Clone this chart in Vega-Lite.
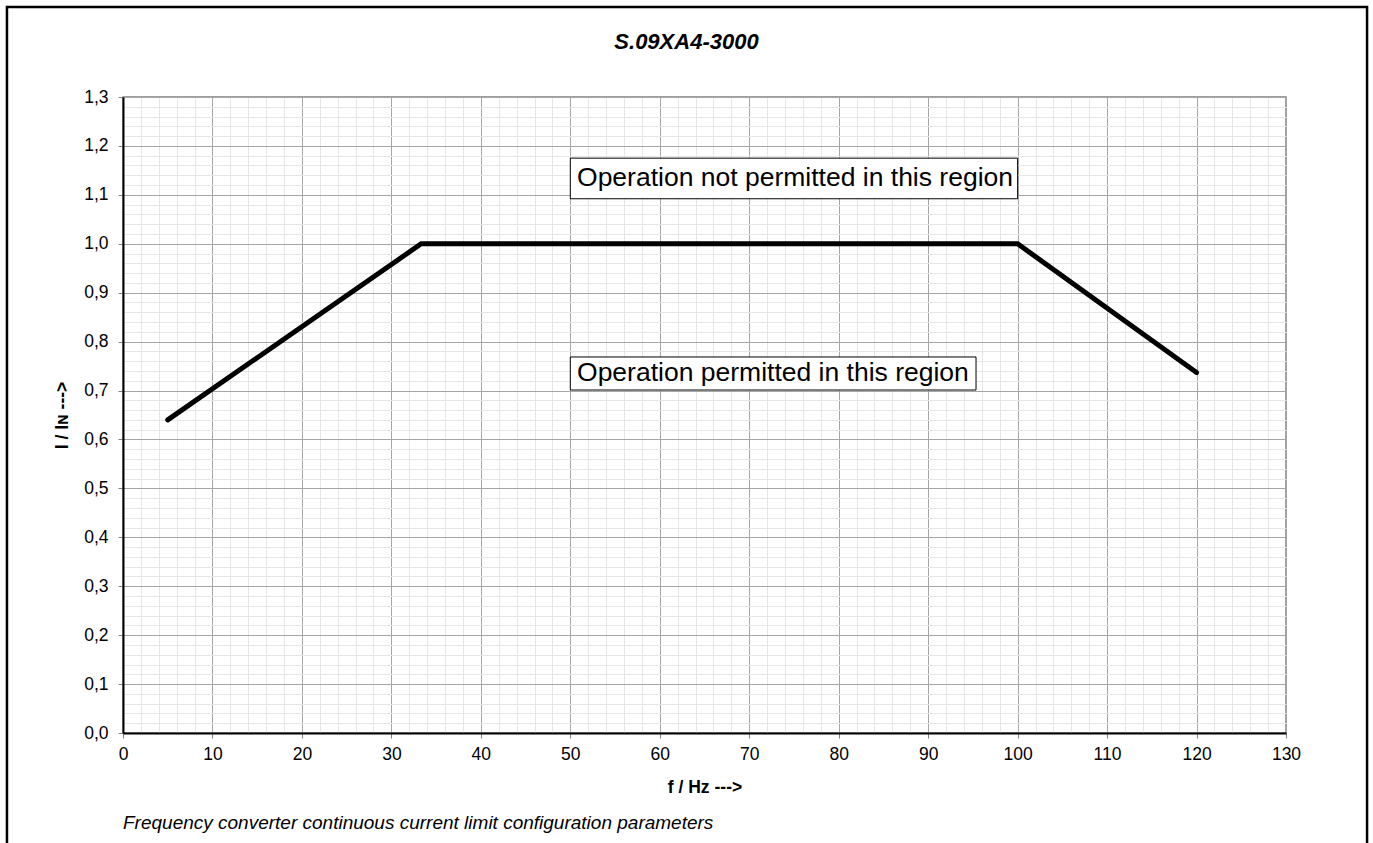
{
  "$schema": "https://vega.github.io/schema/vega-lite/v6.json",
  "width": 1163,
  "height": 636,
  "autosize": {"type": "none"},
  "padding": {"left": 123, "top": 97, "right": 87, "bottom": 110},
  "background": "white",
  "title": {
    "text": "S.09XA4-3000",
    "anchor": "middle",
    "frame": "group",
    "fontSize": 22,
    "fontWeight": "bold",
    "fontStyle": "italic",
    "font": "Liberation Sans",
    "color": "black",
    "offset": -48,
    "dx": -18
  },
  "config": {
    "font": "Liberation Sans",
    "view": {"stroke": "#808080", "strokeWidth": 1.5}
  },
  "layer": [
    {
      "data": {
        "values": [
          {"f": 5, "i": 0.64},
          {"f": 33.33, "i": 1.0},
          {"f": 100, "i": 1.0},
          {"f": 120, "i": 0.737}
        ]
      },
      "mark": {"type": "line", "color": "black", "strokeWidth": 5, "strokeCap": "round", "strokeJoin": "miter"},
      "encoding": {
        "x": {
          "field": "f",
          "type": "quantitative",
          "scale": {"domain": [0, 130], "nice": false, "zero": false},
          "axis": {
            "title": "f / Hz --->",
            "titleFontSize": 17.5,
            "titleFontWeight": "bold",
            "titleColor": "black",
            "titlePadding": 16,
            "tickCount": 500,
            "values": [0,2,4,6,8,10,12,14,16,18,20,22,24,26,28,30,32,34,36,38,40,42,44,46,48,50,52,54,56,58,60,62,64,66,68,70,72,74,76,78,80,82,84,86,88,90,92,94,96,98,100,102,104,106,108,110,112,114,116,118,120,122,124,126,128,130],
            "labelExpr": "datum.value % 10 === 0 ? format(datum.value, 'd') : ''",
            "labelFontSize": 17.5,
            "labelColor": "black",
            "labelPadding": 7,
            "labelOverlap": false,
            "labelFlush": false,
            "labelBound": false,
            "tickSize": 5,
            "tickColor": "#808080",
            "tickOpacity": {"condition": {"test": "datum.value % 10 === 0", "value": 1}, "value": 0},
            "domainColor": "black",
            "domainWidth": 2,
            "grid": true,
            "gridColor": {"condition": {"test": "datum.value % 10 === 0", "value": "#a6a6a6"}, "value": "#e6e6e6"},
            "gridWidth": 1
          }
        },
        "y": {
          "field": "i",
          "type": "quantitative",
          "scale": {"domain": [0, 1.3], "nice": false, "zero": false},
          "axis": {
            "title": "I / Iɴ --->",
            "titleFontSize": 17.5,
            "titleFontWeight": "bold",
            "titleColor": "black",
            "titlePadding": 12,
            "tickCount": 500,
            "values": [0,0.02,0.04,0.06,0.08,0.1,0.12,0.14,0.16,0.18,0.2,0.22,0.24,0.26,0.28,0.3,0.32,0.34,0.36,0.38,0.4,0.42,0.44,0.46,0.48,0.5,0.52,0.54,0.56,0.58,0.6,0.62,0.64,0.66,0.68,0.7,0.72,0.74,0.76,0.78,0.8,0.82,0.84,0.86,0.88,0.9,0.92,0.94,0.96,0.98,1.0,1.02,1.04,1.06,1.08,1.1,1.12,1.14,1.16,1.18,1.2,1.22,1.24,1.26,1.28,1.3],
            "labelExpr": "abs(round(datum.value * 100)) % 10 === 0 ? replace(format(datum.value, '.1f'), '.', ',') : ''",
            "labelFontSize": 17.5,
            "labelColor": "black",
            "labelPadding": 10,
            "labelOverlap": false,
            "labelFlush": false,
            "labelBound": false,
            "tickSize": 5,
            "tickColor": "#808080",
            "tickOpacity": {"condition": {"test": "abs(round(datum.value * 100)) % 10 === 0", "value": 1}, "value": 0},
            "domainColor": "black",
            "domainWidth": 2,
            "grid": true,
            "gridColor": {"condition": {"test": "abs(round(datum.value * 100)) % 10 === 0", "value": "#a6a6a6"}, "value": "#e6e6e6"},
            "gridWidth": 1
          }
        }
      }
    },
    {
      "data": {"values": [{"label": "Operation not permitted in this region"}]},
      "layer": [
        {
          "mark": {"type": "rect", "fill": "white", "stroke": "black", "strokeWidth": 1},
          "encoding": {
            "x": {"datum": 50},
            "x2": {"datum": 100},
            "y": {"datum": 1.175},
            "y2": {"datum": 1.092}
          }
        },
        {
          "mark": {"type": "text", "align": "left", "baseline": "middle", "fontSize": 26.5, "color": "black"},
          "encoding": {
            "x": {"datum": 50.75},
            "y": {"datum": 1.134},
            "text": {"field": "label"}
          }
        }
      ]
    },
    {
      "data": {"values": [{"label": "Operation permitted in this region"}]},
      "layer": [
        {
          "mark": {"type": "rect", "fill": "white", "stroke": "black", "strokeWidth": 1},
          "encoding": {
            "x": {"datum": 50},
            "x2": {"datum": 95.35},
            "y": {"datum": 0.7686},
            "y2": {"datum": 0.7011}
          }
        },
        {
          "mark": {"type": "text", "align": "left", "baseline": "middle", "fontSize": 26.5, "color": "black"},
          "encoding": {
            "x": {"datum": 50.75},
            "y": {"datum": 0.7349},
            "text": {"field": "label"}
          }
        }
      ]
    },
    {
      "data": {"values": [{"note": "Frequency converter continuous current limit configuration parameters"}]},
      "mark": {"type": "text", "align": "left", "baseline": "middle", "fontSize": 19, "fontStyle": "italic", "color": "black"},
      "encoding": {
        "x": {"datum": 0},
        "y": {"datum": -0.184},
        "text": {"field": "note"}
      }
    },
    {
      "data": {"values": [{"frame": "outer"}]},
      "mark": {"type": "rect", "filled": false, "stroke": "black", "strokeWidth": 2.5},
      "encoding": {
        "x": {"datum": -12.97},
        "x2": {"datum": 139.06},
        "y": {"datum": 1.484},
        "y2": {"datum": -0.35}
      }
    }
  ]
}
